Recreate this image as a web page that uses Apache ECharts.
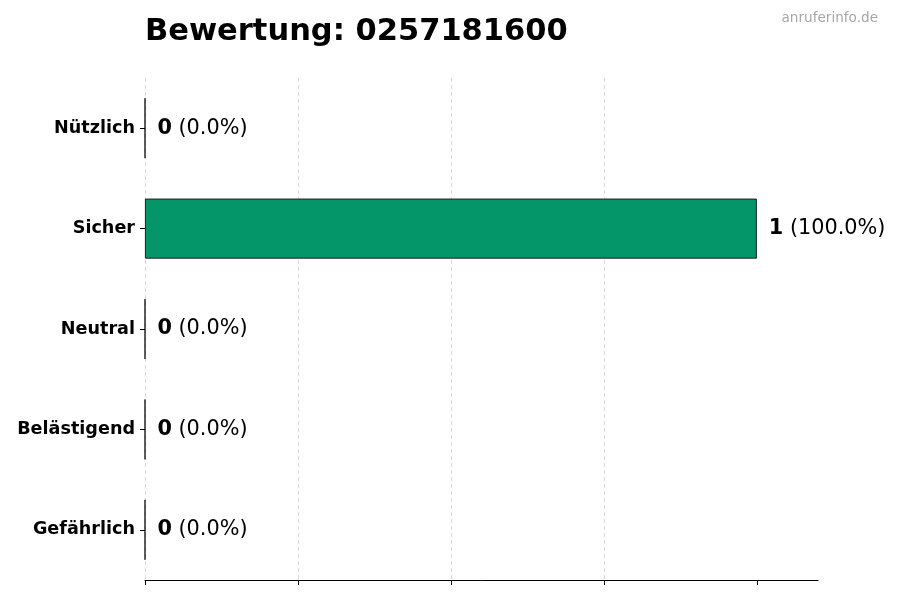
<!DOCTYPE html>
<html><head><meta charset="utf-8">
<script src="https://cdn.jsdelivr.net/npm/echarts@6/dist/echarts.min.js"></script>
<style>html,body{margin:0;padding:0;background:#fff}#c{width:900px;height:600px}</style>
</head><body><div id="c"></div>
<script>
const categories = ['Nützlich', 'Sicher', 'Neutral', 'Belästigend', 'Gefährlich'];
const values = [0, 1, 0, 0, 0];
const barColors = ['#049669', '#049669', '#049669', '#049669', '#049669'];
const xTicks = [0, 0.25, 0.5, 0.75, 1];
const titleText = 'Bewertung: 0257181600';
const watermark = 'anruferinfo.de';

const total = values.reduce((a, b) => a + b, 0);
const font = 'DejaVu Sans';
const chart = echarts.init(document.getElementById('c'), null, {renderer: 'canvas'});
chart.setOption({
  animation: false,
  backgroundColor: '#fff',
  textStyle: {fontFamily: font},
  title: [
    {text: titleText, left: 140, top: 12, textStyle: {fontFamily: font, fontWeight: 'bold', fontSize: 30.5, color: '#000'}},
    {text: watermark, right: 17, top: 6, textStyle: {fontFamily: font, fontWeight: 'normal', fontSize: 13.6, color: '#a6a6a6'}}
  ],
  grid: {left: 145, right: 82, top: 78, height: 502, containLabel: false},
  xAxis: {
    type: 'value', min: 0, max: 1.1, interval: 0.25,
    axisLine: {show: true, lineStyle: {color: '#000', width: 1}},
    axisTick: {show: true, length: 5, lineStyle: {color: '#000', width: 1}, customValues: xTicks},
    axisLabel: {show: false},
    splitLine: {show: true, showMaxLine: false, lineStyle: {color: '#d0d0d0', type: [4, 3], width: 0.8}}
  },
  yAxis: {
    type: 'category', inverse: true, data: categories,
    axisLine: {show: false},
    axisTick: {show: true, alignWithLabel: true, inside: false, length: 5, lineStyle: {color: '#000', width: 1}},
    axisLabel: {fontFamily: font, fontWeight: 'bold', fontSize: 17.6, color: '#000', margin: 10}
  },
  series: [{
    type: 'bar',
    data: values.map((v, i) => ({value: v, itemStyle: {color: barColors[i]}})),
    barWidth: 60,
    itemStyle: {borderColor: '#000', borderWidth: 0.8},
    label: {
      show: true, position: 'right', distance: 12,
      formatter: p => '{b|' + p.value + '}{n| (' + (total ? (p.value / total * 100) : 0).toFixed(1) + '%)}',
      rich: {
        b: {fontFamily: font, fontWeight: 'bold', fontSize: 20.8, color: '#000'},
        n: {fontFamily: font, fontWeight: 'normal', fontSize: 20.8, color: '#000'}
      }
    }
  }]
});
</script></body></html>
